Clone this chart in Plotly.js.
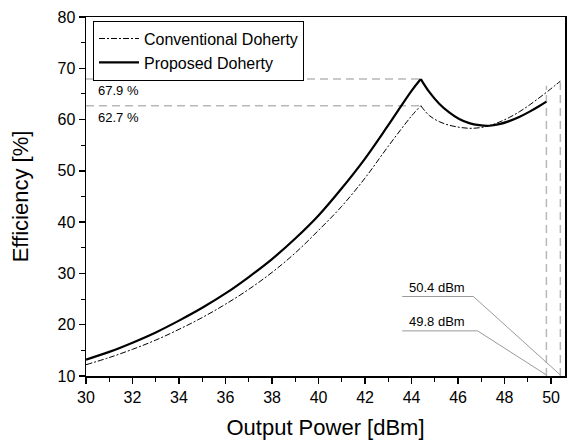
<!DOCTYPE html>
<html>
<head>
<meta charset="utf-8">
<script src="https://cdn.plot.ly/plotly-3.0.1.min.js"></script>
<style>
html,body{margin:0;padding:0;background:#fff;}
#chart{width:574px;height:445px;}
</style>
</head>
<body>
<div id="chart"></div>
<script>
// ---- data ----
const seriesNames = ["Conventional Doherty", "Proposed Doherty"];

const xConventional = [30,31,32,33,34,35,36,37,38,39,40,41,42,43,44,44.4,
  44.76,45.19,45.62,46.05,46.48,46.91,47.34,47.77,48.2,48.63,49.06,49.48,49.91,50.4];
const yConventional = [12.2,13.6,15.2,17.0,19.1,21.4,24.0,26.9,30.2,34.0,38.4,43.1,48.6,54.8,60.7,62.7,
  60.8,59.6,58.9,58.5,58.3,58.4,58.8,59.5,60.4,61.5,62.8,64.2,65.7,67.5];

const xProposed = [30,31,32,33,34,35,36,37,38,39,40,41,42,43,44,44.4,
  44.76,45.19,45.62,46.05,46.48,46.91,47.34,47.77,48.2,48.63,49.06,49.48,49.8];
const yProposed = [13.2,14.7,16.5,18.5,20.8,23.3,26.1,29.3,32.8,36.8,41.3,46.6,52.4,58.9,65.6,67.9,
  65.4,63.1,61.4,60.1,59.3,58.9,58.8,59.1,59.7,60.5,61.5,62.6,63.5];

// reference markers
const peakX = 44.4;
const peakLevels = [67.9, 62.7];          // proposed, conventional
const peakLabels = ["67.9 %", "62.7 %"];
const maxPowers = [49.8, 50.4];           // proposed, conventional
const maxPowerTops = [66.6, 67.3];
const maxPowerLabels = ["49.8 dBm", "50.4 dBm"];
const labelLeftX = 43.6;
const labelLineEndX = [46.84, 46.66];
const labelLineY = [18.8, 25.5];

const xTicks = [30,32,34,36,38,40,42,44,46,48,50];
const yTicks = [10,20,30,40,50,60,70,80];
const xRange = [30, 50.6];
const yRange = [10, 80];

const FONT = "Liberation Sans, Arial, Helvetica, sans-serif";

// split each series at the peak (cusp) so the smooth curve keeps its sharp corner
function segments(xs, ys, name, line) {
  const k = xs.indexOf(peakX);
  const parts = [[0, k + 1], [k, xs.length]];
  return parts.map((p, j) => ({
    x: xs.slice(p[0], p[1]), y: ys.slice(p[0], p[1]),
    name: name, legendgroup: name, showlegend: j === 0,
    mode: "lines", line: Object.assign({shape: "spline", smoothing: 1}, line)
  }));
}

const traces = [].concat(
  segments(xConventional, yConventional, seriesNames[0], {color: "#000", width: 1, dash: "6px,2px,2px,2px"}),
  segments(xProposed, yProposed, seriesNames[1], {color: "#000", width: 2.2})
);

const shapes = [];
const annotations = [];
const dashGray = {color: "#b8b8b8", width: 1.5, dash: "8px,5px"};
peakLevels.forEach((lv, i) => {
  shapes.push({type: "line", xref: "x", yref: "y", x0: xRange[0], x1: peakX, y0: lv, y1: lv, line: dashGray, layer: "below"});
  annotations.push({x: 30.45, y: lv, xref: "x", yref: "y", text: peakLabels[i], showarrow: false,
    xanchor: "left", yanchor: "top", yshift: -2, font: {family: FONT, size: 13, color: "#000"}});
});
maxPowers.forEach((p, i) => {
  shapes.push({type: "line", xref: "x", yref: "y", x0: p, x1: p, y0: yRange[0], y1: maxPowerTops[i], line: dashGray, layer: "below"});
  shapes.push({type: "path", xref: "x", yref: "y",
    path: `M ${labelLeftX} ${labelLineY[i]} L ${labelLineEndX[i]} ${labelLineY[i]} L ${p} ${yRange[0]+0.2}`,
    line: {color: "#9a9a9a", width: 1}, layer: "below"});
  annotations.push({x: labelLeftX + 0.2, y: labelLineY[i], xref: "x", yref: "y", text: maxPowerLabels[i], showarrow: false,
    xanchor: "left", yanchor: "bottom", yshift: 0, font: {family: FONT, size: 13, color: "#000"}});
});

const axisCommon = {
  showline: true, linecolor: "#000", linewidth: 1.5, mirror: true,
  ticks: "outside", ticklen: 6, tickwidth: 1.3, tickcolor: "#000",
  showgrid: false, zeroline: false, automargin: false,
  tickfont: {family: FONT, size: 16, color: "#000"},
  minor: {ticks: "outside", ticklen: 4, tickwidth: 1, tickcolor: "#000", showgrid: false}
};

const layout = {
  width: 574, height: 445,
  margin: {l: 86, r: 9, t: 17, b: 69},
  paper_bgcolor: "#fff", plot_bgcolor: "#fff",
  font: {family: FONT, color: "#000"},
  showlegend: true,
  legend: {x: 0.0146, y: 0.99, xanchor: "left", yanchor: "top",
    bordercolor: "#000", borderwidth: 1, bgcolor: "#fff",
    font: {family: FONT, size: 16, color: "#000"}, itemwidth: 40, tracegroupgap: 0},
  xaxis: Object.assign({}, axisCommon, {
    range: xRange, tickmode: "array", tickvals: xTicks, ticktext: xTicks.map(String),
    minor: Object.assign({}, axisCommon.minor, {dtick: 1, tick0: 30}),
    title: {text: "Output Power [dBm]", font: {family: FONT, size: 22, color: "#000"}, standoff: 15}
  }),
  yaxis: Object.assign({}, axisCommon, {
    range: yRange, tickmode: "array", tickvals: yTicks, ticktext: yTicks.map(String),
    minor: Object.assign({}, axisCommon.minor, {dtick: 5, tick0: 10}),
    title: {text: "Efficiency [%]", font: {family: FONT, size: 22, color: "#000"}, standoff: 23}
  }),
  shapes: shapes,
  annotations: annotations
};

Plotly.newPlot("chart", traces, layout, {displayModeBar: false, staticPlot: true});
</script>
</body>
</html>
